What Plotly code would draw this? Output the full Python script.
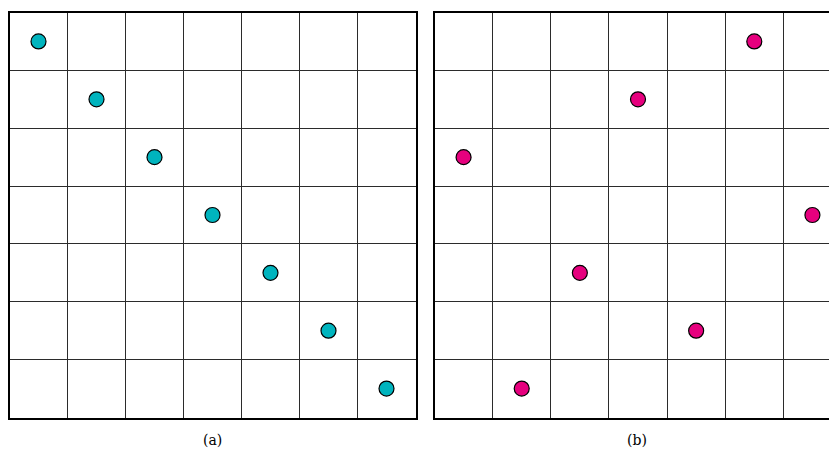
import plotly.graph_objects as go

# Board size and queen placements (column index, row index from the top)
n_cells = 7
left_cols = [0, 1, 2, 3, 4, 5, 6]
left_rows = [0, 1, 2, 3, 4, 5, 6]
right_cols = [5, 3, 0, 6, 2, 4, 1]
right_rows = [0, 1, 2, 3, 4, 5, 6]
panel_labels = ["(a)", "(b)"]
left_color = "#00b4be"
right_color = "#e6007e"

W, H = 829, 450
cell_px = (416 - 9) / n_cells

fig = go.Figure()


def centers(cols, rows):
    xs = [c + 0.5 for c in cols]
    ys = [n_cells - r - 0.5 for r in rows]
    return xs, ys


lx, ly = centers(left_cols, left_rows)
rx, ry = centers(right_cols, right_rows)

marker_line = dict(color="black", width=1.2)
fig.add_trace(go.Scatter(x=lx, y=ly, mode="markers", xaxis="x", yaxis="y",
                         marker=dict(size=15, color=left_color, line=marker_line),
                         showlegend=False, hoverinfo="skip"))
fig.add_trace(go.Scatter(x=rx, y=ry, mode="markers", xaxis="x2", yaxis="y2",
                         marker=dict(size=15, color=right_color, line=marker_line),
                         showlegend=False, hoverinfo="skip"))

y_dom = [1 - 417.5 / H, 1 - 12.5 / H]
left_dom = [9.5 / W, 415.5 / W]
right_dom = [434.5 / W, 1.0]
right_range = (W - 434.5) / cell_px

grid = dict(showgrid=True, gridcolor="#2b2b2b", gridwidth=1, tick0=0, dtick=1,
            showticklabels=False, ticks="", zeroline=False, fixedrange=True)

fig.update_layout(
    width=W, height=H,
    margin=dict(l=0, r=0, t=0, b=0),
    paper_bgcolor="white", plot_bgcolor="white",
    xaxis=dict(domain=left_dom, range=[0, n_cells], anchor="y",
               showline=True, mirror=True, linecolor="black", linewidth=1.6, **grid),
    yaxis=dict(domain=y_dom, range=[0, n_cells], anchor="x",
               showline=True, mirror=True, linecolor="black", linewidth=1.6, **grid),
    xaxis2=dict(domain=right_dom, range=[0, right_range], anchor="y2",
                showline=True, mirror=True, linecolor="black", linewidth=1.6, **grid),
    yaxis2=dict(domain=y_dom, range=[0, n_cells], anchor="x2",
                showline=True, mirror=False, linecolor="black", linewidth=1.6, **grid),
)

label_font = dict(family="DejaVu Serif", size=14, color="black")
fig.add_annotation(text=panel_labels[0], xref="paper", yref="paper",
                   x=(9 + 416) / 2 / W, y=1 - 440 / H, showarrow=False,
                   font=label_font, xanchor="center", yanchor="middle")
fig.add_annotation(text=panel_labels[1], xref="paper", yref="paper",
                   x=637 / W, y=1 - 440 / H, showarrow=False,
                   font=label_font, xanchor="center", yanchor="middle")

fig.write_html("out.html")
